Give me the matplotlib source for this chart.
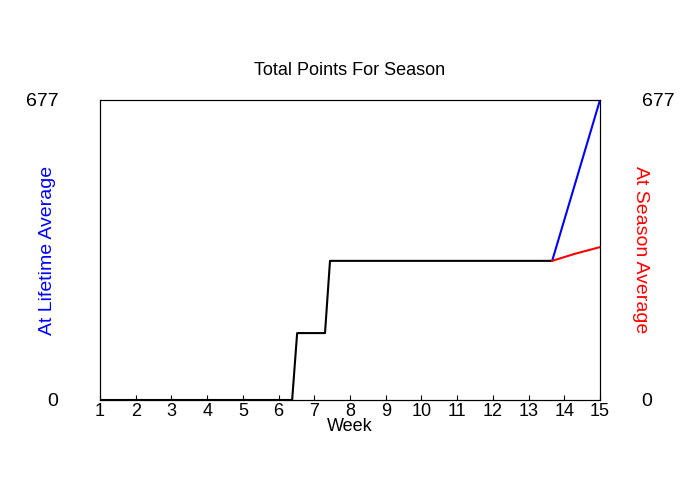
import matplotlib
matplotlib.use("Agg")
import matplotlib.pyplot as plt

plt.rcParams['font.family'] = ['Liberation Sans', 'DejaVu Sans']

# values
weeks_black = [1, 6.38, 6.52, 7.3, 7.44, 13.66]
pts_black = [0, 0, 151, 151, 314, 314]
weeks_blue = [13.66, 15]
pts_blue = [314, 677]
weeks_red = [13.66, 14.3, 15]
pts_red = [314, 330, 345]
ymax = 677

fig = plt.figure(figsize=(7, 5), dpi=100)
ax = fig.add_axes([100/700, 100/500, 500/700, 300/500])
ax.plot(weeks_black, pts_black, color='black', lw=1.5)
ax.plot(weeks_blue, pts_blue, color='blue', lw=1.5)
ax.plot(weeks_red, pts_red, color='red', lw=1.5)
ax.set_xlim(1, 15)
ax.set_ylim(0, ymax)
ax.set_xticks(range(1, 16))
ax.set_yticks([0, ymax])
ax.tick_params(axis='x', direction='in', labelsize=13, pad=2)
ax.tick_params(axis='y', length=0, labelsize=14, pad=30)
ax.set_xlabel('Week', fontsize=13, labelpad=-1)
ax.set_ylabel('At Lifetime Average', color='blue', fontsize=14, labelpad=-22)
ax.set_title('Total Points For Season', fontsize=13, pad=18)

ax2 = ax.twinx()
ax2.set_ylim(0, ymax)
ax2.set_yticks([0, ymax])
ax2.tick_params(axis='y', length=0, labelsize=14, pad=30)
ax2.set_ylabel('At Season Average', color='red', fontsize=14, rotation=-90, labelpad=-18)

fig.savefig('out.png')
